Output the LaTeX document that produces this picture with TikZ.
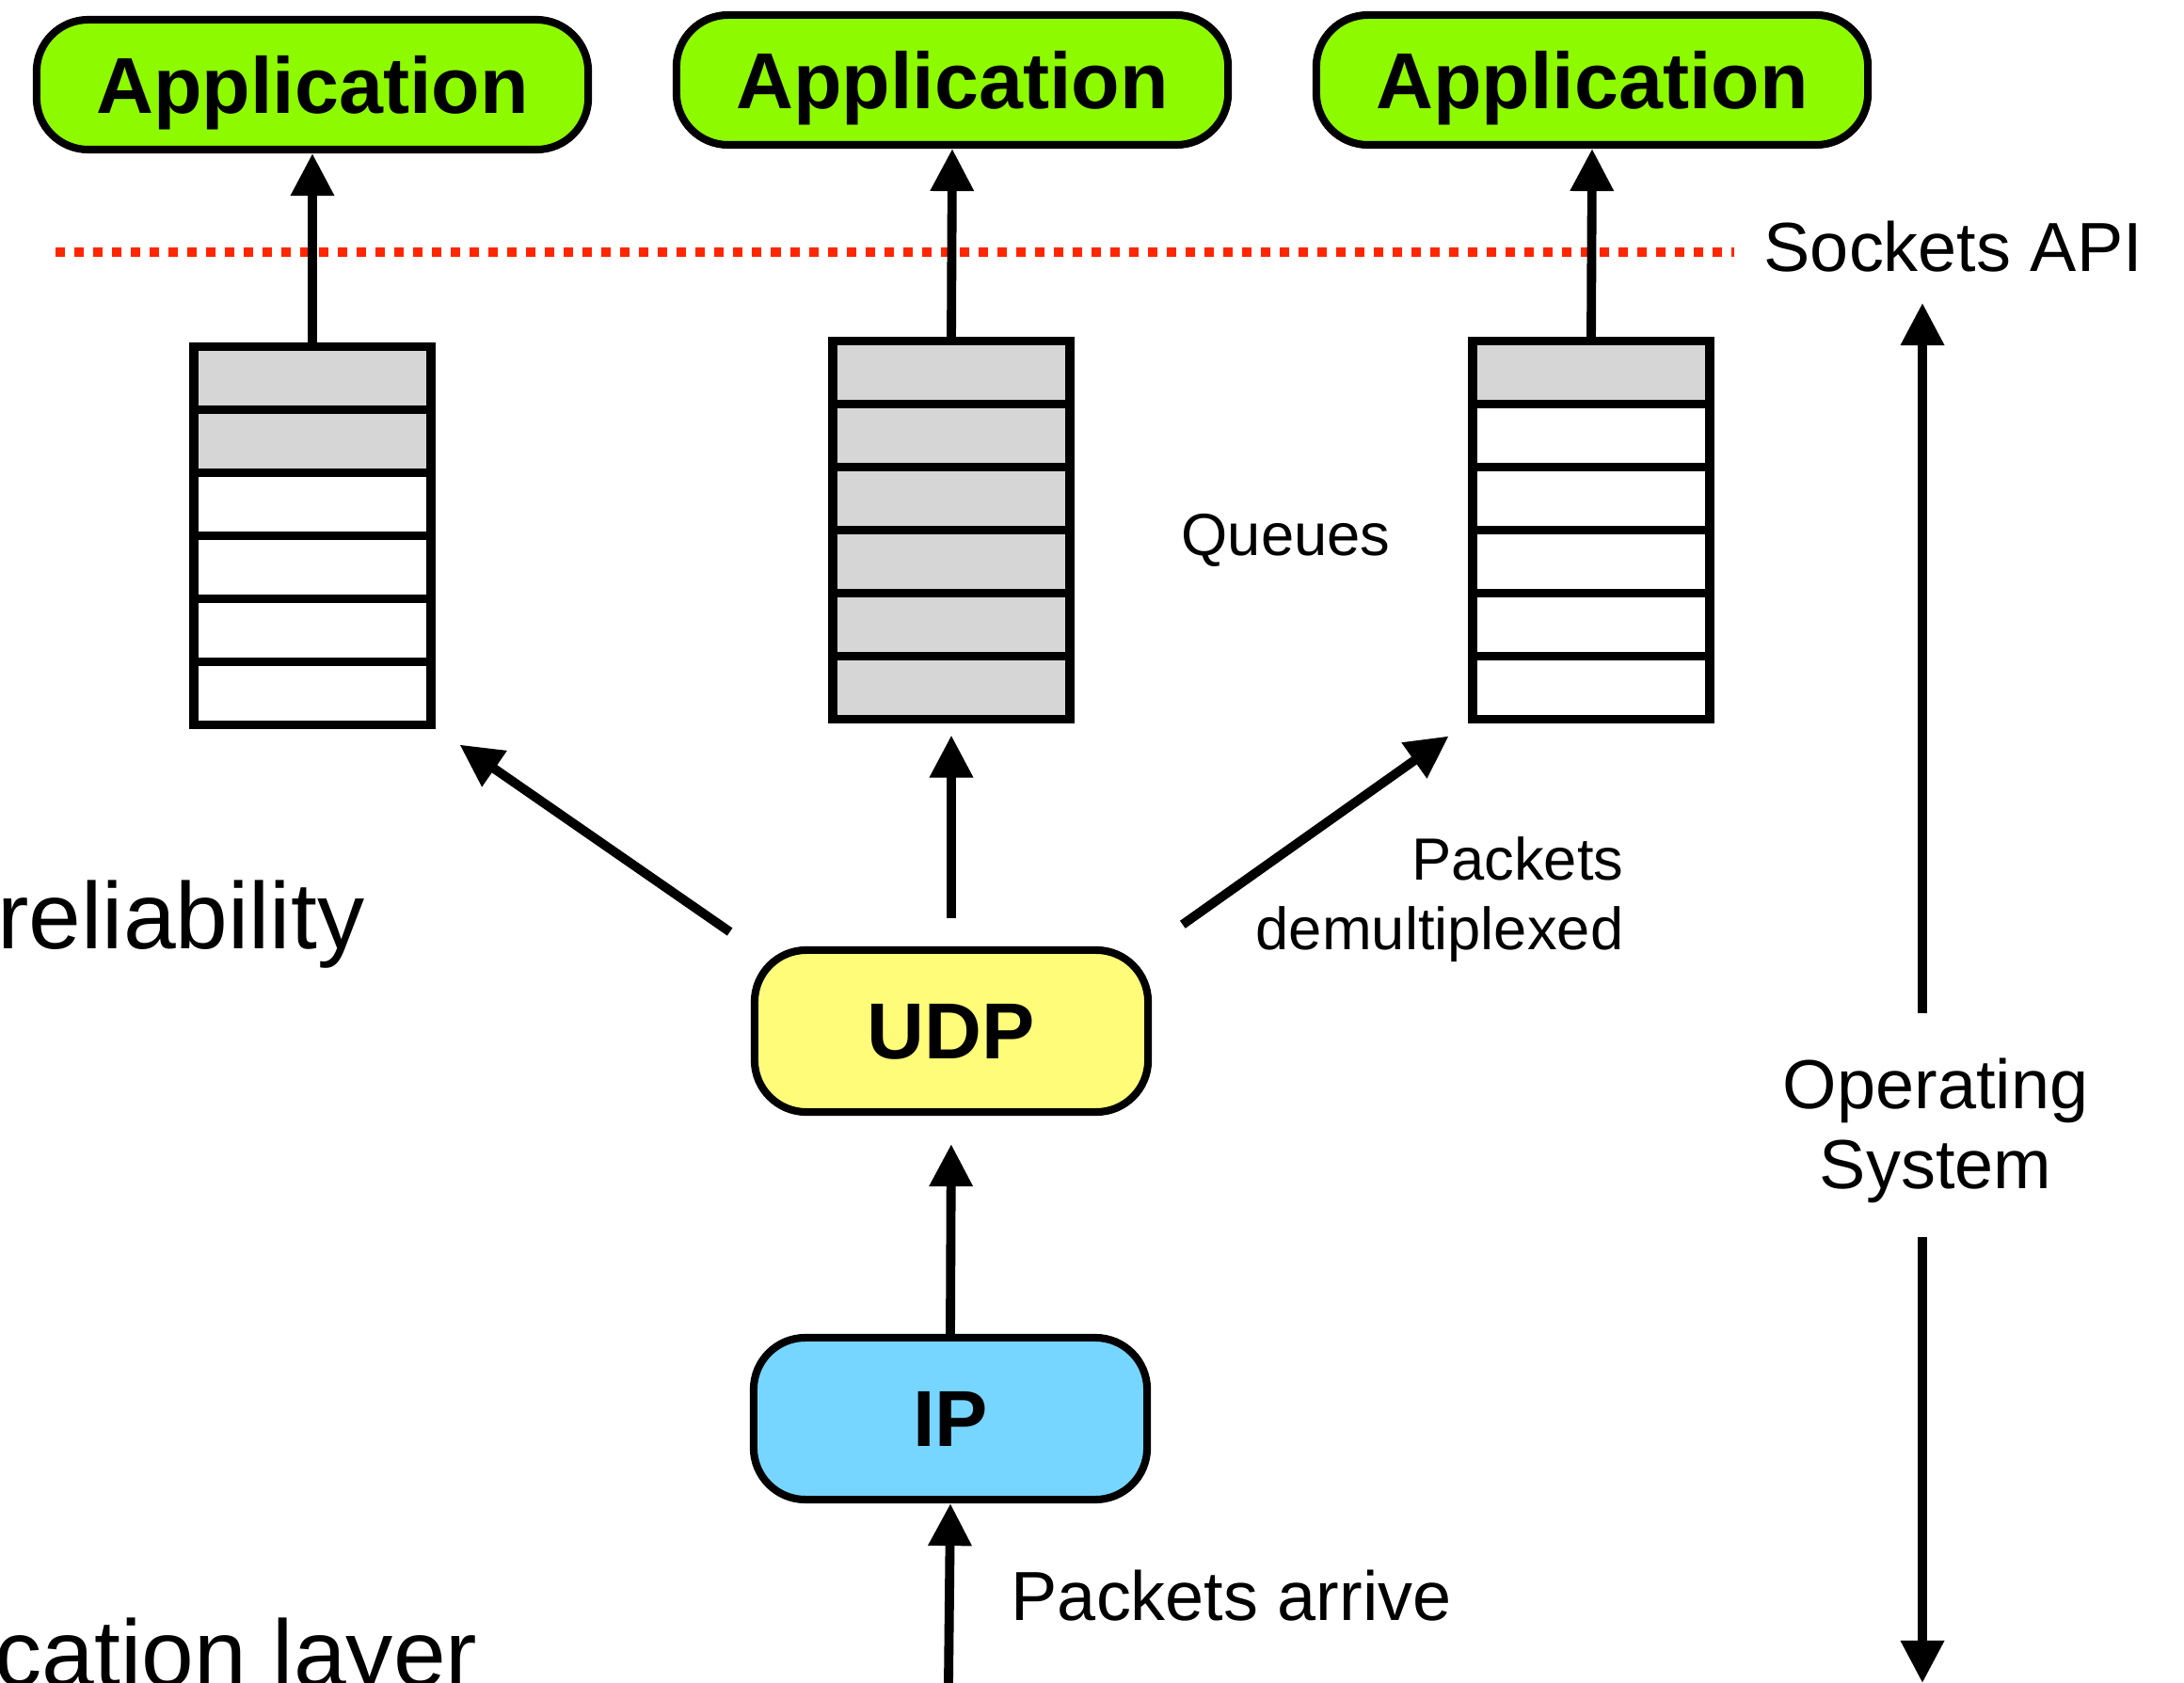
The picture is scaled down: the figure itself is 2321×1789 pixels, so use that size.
\documentclass[tikz,border=0pt]{standalone}
\usepackage{fontspec}
\setmainfont{Liberation Sans}
\usetikzlibrary{arrows.meta}

\definecolor{appgreen}{HTML}{8EFA00}
\definecolor{udpyellow}{HTML}{FFFC79}
\definecolor{ipblue}{HTML}{76D6FF}
\definecolor{cellgray}{HTML}{D6D6D6}
\definecolor{apired}{HTML}{FF2600}

\tikzset{
  appbox/.style={draw, line width=2.3pt, rounded corners=0.55cm, fill=appgreen,
    minimum width=5.86cm, minimum height=1.38cm, inner sep=0pt, text depth=0pt,
    font=\fontsize{24}{28}\selectfont\bfseries},
  protobox/.style={draw, line width=2.3pt, rounded corners=0.55cm,
    minimum width=4.18cm, minimum height=1.72cm, inner sep=0pt, text depth=0pt,
    font=\fontsize{24}{28}\selectfont\bfseries},
  qcell/.style={draw, line width=2.8pt, minimum width=2.52cm, minimum height=0.67cm,
    inner sep=0pt, outer sep=0pt},
  arr/.style={-{Triangle[length=0.45cm, width=0.44cm]}, line width=2.8pt},
  apiline/.style={apired, line width=0.1cm, dash pattern=on 0.1cm off 0.1cm},
  txt/.style={inner sep=0pt, font=\fontsize{21}{24.2}\selectfont},
  smalltxt/.style={inner sep=0pt, font=\fontsize{18}{21}\selectfont},
  bigtxt/.style={inner sep=0pt, font=\fontsize{28.5}{33}\selectfont}
}

\begin{document}
\begin{tikzpicture}[x=0.01cm, y=-0.01cm]
    \useasboundingbox (0,0) rectangle (2321,1789);

    % Applications
    \node[appbox] (app1) at (332,90) {Application};
    \node[appbox] (app2) at (1012,85) {Application};
    \node[appbox] (app3) at (1692,85) {Application};

    % Sockets API boundary
    \draw[apiline] (59,268) -- (1843,268);
    \node[txt, anchor=base west] (api) at (1874,289) {Sockets API};

    % Queues (top cells hold packets)
    \foreach \q/\x/\y/\n in {q1/332/402/2, q2/1011/396/6, q3/1691/396/1} {
        \foreach \k in {1,...,6} {
            \ifnum\k>\n \def\cellfill{white}\else \def\cellfill{cellgray}\fi
            \node[qcell, fill=\cellfill] (\q-\k) at (\x,{\y+(\k-1)*67}) {};
        }
    }
    \node[smalltxt, anchor=base west] (queues) at (1255,591) {Queues};

    % Protocol layers
    \node[protobox, fill=udpyellow] (udp) at (1011,1096) {UDP};
    \node[protobox, fill=ipblue] (ip) at (1010,1508) {IP};

    % Queues to applications
    \draw[arr] (q1-1.north) -- (app1.south);
    \draw[arr] (q2-1.north) -- (app2.south);
    \draw[arr] (q3-1.north) -- (app3.south);

    % Demultiplexing
    \draw[arr, shorten <=0.27cm, shorten >=0.37cm] (udp.north west) -- (q1-6.south east);
    \draw[arr, shorten <=0.3cm, shorten >=0.17cm] (udp.north) -- (q2-6.south);
    \draw[arr, shorten <=0.4cm, shorten >=0.31cm] (udp.north east) -- (q3-6.south west);
    \node[smalltxt, anchor=north east, align=right] (demux) at (1726,889) {Packets\\demultiplexed};

    % Incoming packets
    \coordinate (inlink) at (1008,1789);
    \draw[arr, shorten >=0.3cm] (ip.north) -- (udp.south);
    \draw[arr] (inlink) -- (ip.south);
    \node[txt, anchor=base west] (arrive) at (1074,1722) {Packets arrive};

    % Operating system extent
    \coordinate (ostop) at (2043,322);
    \coordinate (osbot) at (2043,1789);
    \node[txt, anchor=north, align=center] (os) at (2057,1124) {Operating\\System};
    \draw[arr, shorten <=0.47cm] (os.north -| ostop) -- (ostop);
    \draw[arr, shorten <=0.36cm] (os.south -| osbot) -- (osbot);

    % Side labels
    \node[bigtxt, anchor=base east] (rel) at (388,1009) {reliability};
    \node[bigtxt, anchor=base east] (applayer) at (508,1792) {cation layer};
\end{tikzpicture}
\end{document}
